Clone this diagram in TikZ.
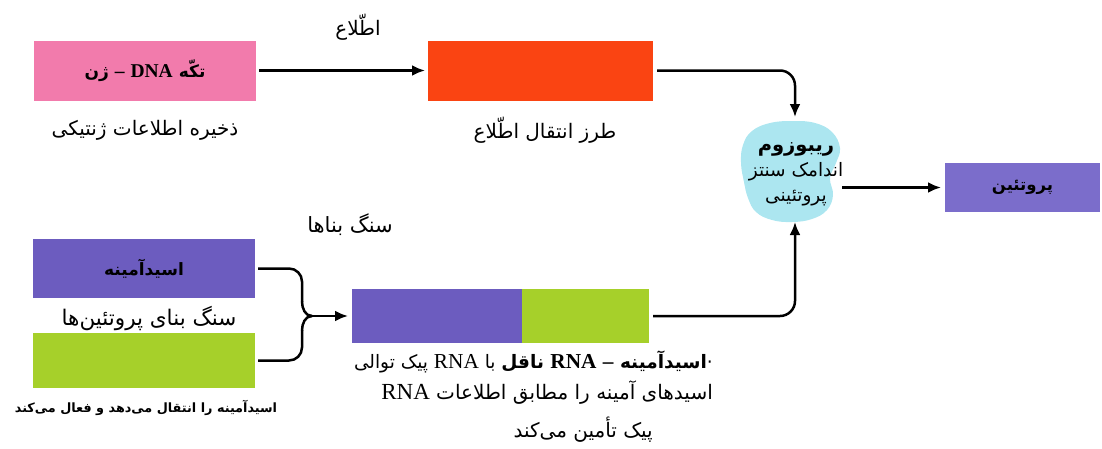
\documentclass[tikz,border=0pt]{standalone}
\usepackage{fontspec}
\TeXXeTstate=1
\newfontfamily\fa[Script=Arabic]{DejaVu Sans}
\newfontfamily\lat[Scale=1.15]{Liberation Serif}
\usetikzlibrary{arrows.meta,calc}
\definecolor{cpink}{HTML}{F27BAC}
\definecolor{cred}{HTML}{FA4412}
\definecolor{cpurp}{HTML}{6C5CBF}
\definecolor{cprot}{HTML}{7B6DCB}
\definecolor{cgreen}{HTML}{A6D02A}
\definecolor{ccyan}{HTML}{ACE6F0}
\begin{document}
\begin{tikzpicture}[x=1pt,y=-1pt,
  box/.style={inner sep=0pt, outer sep=0pt, minimum width=222pt, minimum height=60pt},
  boxtext/.style={font=\fa\bfseries\fontsize{17}{20}\selectfont},
  lbl/.style={inner sep=0pt, font=\fa\fontsize{20}{24}\selectfont},
  smlbl/.style={inner sep=0pt, font=\fa\bfseries\fontsize{12.8}{15}\selectfont},
  ln/.style={line width=2.5pt},
  arr/.style={ln, -{Latex[length=13pt,width=11pt]}},
]
\useasboundingbox (0,0) rectangle (1102,448);

% boxes
\node[box, boxtext, fill=cpink] (dna) at (145,70.5) {\beginR تکّه {\lat DNA} {\lat –} ژن\endR};
\node[box, fill=cred, minimum width=225pt] (tr) at (540.5,70.5) {};
\node[box, boxtext, fill=cpurp, minimum height=59pt] (aa) at (144,268.5) {\beginR اسیدآمینه\endR};
\node[box, fill=cgreen, minimum height=55pt] (ta) at (144,360.5) {};
\node[box, fill=cpurp, minimum width=170pt, minimum height=54pt] (ca) at (437,316) {};
\node[box, fill=cgreen, minimum width=127pt, minimum height=54pt] (cb) at (585.5,316) {};
\node[box, fill=cprot, minimum width=155pt, minimum height=49pt, font=\fa\bfseries\fontsize{16.5}{18}\selectfont] (prot) at (1022.5,187.5) {\beginR پروتئین\endR};

% ribosome blob
\fill[ccyan] plot[smooth cycle, tension=0.7] coordinates {
  (793,121) (815,123) (832,132) (840,148) (836,163) (830,178) (833,195)
  (827,210) (812,219) (792,222) (772,220) (756,212) (748,198) (744,182)
  (741,163) (743,145) (752,131) (770,123)};
\node[inner sep=0pt, outer sep=0pt, minimum width=100pt, minimum height=105pt] (rib) at (795,169.5) {};
\node[inner sep=0pt, align=center, font=\fa\fontsize{18.5}{25}\selectfont] (ribt) at (796,174)
  {\beginR{\bfseries\fontsize{19.5}{25}\selectfont ریبوزوم}\endR\\ \beginR اندامک سنتز\endR\\ \beginR پروتئینی\endR};

% labels
\node[lbl] (l1) at (358,27) {\beginR اطّلاع\endR};
\node[lbl] (l2) at (145,130) {\beginR ذخیره اطلاعات ژنتیکی\endR};
\node[lbl] (l3) at (545,130) {\beginR طرز انتقال اطّلاع\endR};
\node[lbl, font=\fa\fontsize{21}{24}\selectfont] (l4) at (350,225) {\beginR سنگ بناها\endR};
\node[lbl, font=\fa\fontsize{21.5}{24}\selectfont] (l5) at (149,318) {\beginR سنگ بنای پروتئین^^^^200cها\endR};
\node[smlbl] (l6) at (146,408) {\beginR اسیدآمینه را انتقال می^^^^200cدهد و فعال می^^^^200cکند\endR};
\node[lbl, anchor=east, font=\fa\fontsize{18.5}{24}\selectfont] (d1) at (713,362) {\beginR ·\kern0pt{\bfseries اسیدآمینه {\lat –} {\lat RNA} ناقل} با {\lat RNA} پیک توالی\endR};
\node[lbl, anchor=east] (d2) at (713,393) {\beginR اسیدهای آمینه را مطابق اطلاعات {\lat RNA}\endR};
\node[lbl, anchor=east] (d3) at (653,430) {\beginR پیک تأمین می^^^^200cکند\endR};

% connectors
\draw[arr] ([xshift=3pt]dna.east) -- ([xshift=-3pt]tr.west);
\draw[arr, rounded corners=15pt] ([xshift=4pt]tr.east) -| (rib.north);
\draw[arr, rounded corners=15pt] ([xshift=4pt]cb.east) -| (rib.south);
\draw[arr] ([xshift=-3pt]rib.east |- prot.west) -- ([xshift=-4pt]prot.west);

% brace
\coordinate (bx) at (302,316);
\draw[ln, rounded corners=13pt] ([xshift=3pt]aa.east) -| ($(bx)+(0,-14)$);
\draw[ln, rounded corners=13pt] ([xshift=3pt]ta.east) -| ($(bx)+(0,14)$);
\draw[ln] ($(bx)+(0,-14.5)$) to[out=-90,in=180] ($(bx)+(10,0)$);
\draw[ln] ($(bx)+(0,14.5)$) to[out=90,in=180] ($(bx)+(10,0)$);
\draw[arr] ($(bx)+(10,0)$) -- ([xshift=-4pt]ca.west);
\end{tikzpicture}
\end{document}
